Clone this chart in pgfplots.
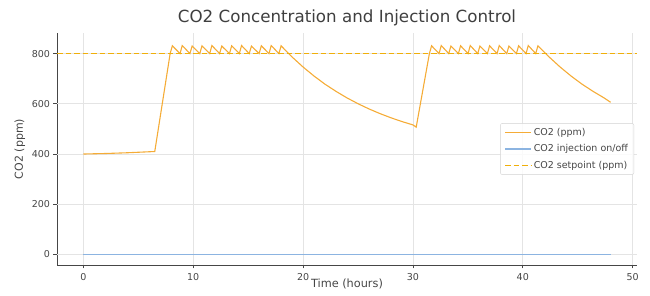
\documentclass[border=0pt]{standalone}
\usepackage{pgfplots}
\pgfplotsset{compat=1.18}
\usepackage{fontspec}
\setmainfont{DejaVu Sans}
\definecolor{co2col}{RGB}{245,172,55}
\definecolor{setptcol}{RGB}{240,175,10}
\definecolor{injcol}{RGB}{140,180,225}
\definecolor{gridcol}{RGB}{228,228,228}
\definecolor{spinecol}{RGB}{70,70,70}
\begin{document}
\begin{tikzpicture}
\useasboundingbox (0,0) rectangle (650pt,296pt);
\begin{axis}[
  at={(57pt,31pt)}, anchor=south west,
  scale only axis, width=580pt, height=232pt,
  xmin=-2.4, xmax=50.4, ymin=-42, ymax=882,
  xtick={0,10,20,30,40,50}, ytick={0,200,400,600,800},
  axis x line*=bottom, axis y line*=left,
  axis line style={spinecol, line width=0.8pt},
  tick align=outside, major tick length=3.5pt,
  tick style={spinecol, line width=0.7pt},
  /pgf/number format/assume math mode=true,
  ticklabel style={font=\fontsize{9.5}{11}\selectfont, text=spinecol},
  xticklabel style={yshift=-1pt},
  title={CO2 Concentration and Injection Control},
  title style={at={(axis description cs:0.5,1)}, anchor=center, yshift=9pt, font=\fontsize{16.7}{19}\selectfont, text=spinecol!90!black},
  xlabel={Time (hours)},
  xlabel style={at={(axis description cs:0.5,0)}, anchor=center, yshift=-19pt, font=\fontsize{11.3}{13}\selectfont, text=spinecol},
  ylabel={CO2 (ppm)},
  ylabel style={at={(axis description cs:-0.064,0.5)}, anchor=center, font=\fontsize{11}{13}\selectfont, text=spinecol},
  legend cell align=left,
  legend style={at={(0.995,0.5)}, anchor=east, draw=gray!35, rounded corners=2pt, fill=white, fill opacity=0.85, text opacity=1, font=\fontsize{9.5}{11.5}\selectfont, text=spinecol, row sep=3.5pt, inner xsep=4pt, inner ysep=3pt},
  legend image code/.code={\draw[#1] (0pt,0pt) -- (26pt,0pt);},
]
% grid lines (drawn first, beneath the data)
\addplot[gridcol, line width=0.6pt, forget plot] coordinates {(-2.4,0) (50.4,0)};
\addplot[gridcol, line width=0.6pt, forget plot] coordinates {(-2.4,200) (50.4,200)};
\addplot[gridcol, line width=0.6pt, forget plot] coordinates {(-2.4,400) (50.4,400)};
\addplot[gridcol, line width=0.6pt, forget plot] coordinates {(-2.4,600) (50.4,600)};
\addplot[gridcol, line width=0.6pt, forget plot] coordinates {(-2.4,800) (50.4,800)};
\addplot[gridcol, line width=0.6pt, forget plot] coordinates {(0,-42) (0,882)};
\addplot[gridcol, line width=0.6pt, forget plot] coordinates {(10,-42) (10,882)};
\addplot[gridcol, line width=0.6pt, forget plot] coordinates {(20,-42) (20,882)};
\addplot[gridcol, line width=0.6pt, forget plot] coordinates {(30,-42) (30,882)};
\addplot[gridcol, line width=0.6pt, forget plot] coordinates {(40,-42) (40,882)};
\addplot[gridcol, line width=0.6pt, forget plot] coordinates {(50,-42) (50,882)};
% CO2 concentration (ppm)
\addplot[color=co2col, line width=1.1pt] coordinates {
 (0,400) (2,402) (4,405) (6.5,410) (7.9,800)
 (8.1,831) (8.8,800) (9.0,832) (9.7,800) (9.9,830) (10.6,800) (10.8,831)
 (11.5,800) (11.7,832) (12.4,800) (12.6,830) (13.3,800) (13.5,831)
 (14.2,800) (14.4,832) (15.1,800) (15.3,830) (16.0,800) (16.2,831)
 (16.9,800) (17.1,832) (17.8,800) (18.0,831)
 (18.5,808.5) (19.0,786.5) (20.0,746.5) (21.0,710.5) (22.0,678.0) (23.0,649.5)
 (24.0,623.5) (25.0,600.4) (26.0,579.6) (27.0,561.0) (28.0,544.3) (29.0,529.3)
 (30.0,516.0) (30.3,507)
 (31.5,800) (31.70,831) (32.38,800) (32.58,832) (33.26,800) (33.46,830)
 (34.14,800) (34.34,831) (35.02,800) (35.22,832) (35.90,800) (36.10,830)
 (36.78,800) (36.98,831) (37.66,800) (37.86,832) (38.54,800) (38.74,830)
 (39.42,800) (39.62,831) (40.30,800) (40.50,832) (41.18,800) (41.38,831)
 (41.9,808.5) (42.4,786.5) (43.4,746.5) (44.4,710.5) (45.4,678.0) (46.4,649.5)
 (47.4,623.5) (48.0,606)
};
\addlegendentry{CO2 (ppm)}
% CO2 injection on/off
\addplot[color=injcol, line width=1.1pt] coordinates {
 (0,0) (6.5,0) (6.5,1) (7.9,1) (7.9,0) (30.3,0) (30.3,1) (31.5,1) (31.5,0) (48,0)
};
\addlegendentry{CO2 injection on/off}
% setpoint
\addplot[color=setptcol, line width=1.4pt, dash pattern=on 5.5pt off 3pt] coordinates {(-2.4,800) (50.4,800)};
\addlegendentry{CO2 setpoint (ppm)}
\end{axis}
\end{tikzpicture}
\end{document}
